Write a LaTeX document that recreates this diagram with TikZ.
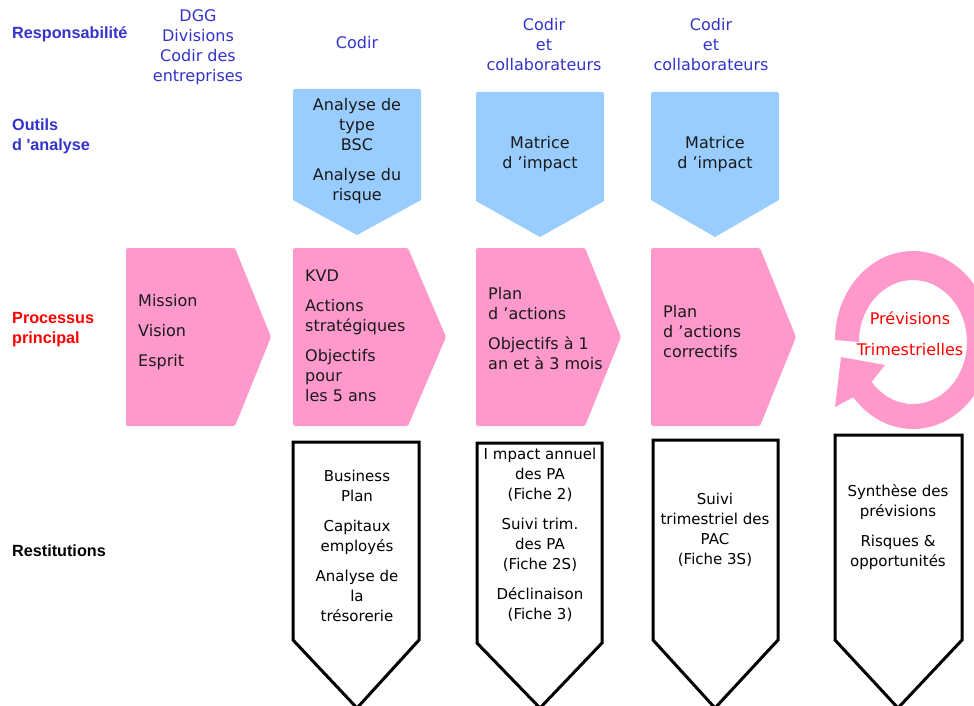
\documentclass[tikz,border=0pt]{standalone}
\usepackage{fontspec}
\setmainfont{DejaVu Sans}
\newfontfamily\labfont{Liberation Sans}
\definecolor{hdrblue}{HTML}{3333CC}
\definecolor{labred}{HTML}{FF0000}
\definecolor{pinkfill}{HTML}{FF99CC}
\definecolor{bluefill}{HTML}{99CCFF}
\definecolor{textdark}{HTML}{1A1A1A}
\begin{document}
\begin{tikzpicture}[x=1pt,y=-1pt,
  txt/.style={inner sep=0pt, font=\fontsize{16}{20}\selectfont, text=textdark, align=center},
  ltxt/.style={txt, align=left, anchor=west},
  btxt/.style={inner sep=0pt, font=\fontsize{15}{20}\selectfont, text=black, align=center},
  hdr/.style={inner sep=0pt, font=\fontsize{16}{20}\selectfont, text=hdrblue, align=center},
  lab/.style={inner sep=0pt, font=\labfont\bfseries\fontsize{16.2}{20}\selectfont, align=left, anchor=west},
  bluearrow/.style={fill=bluefill},
  pinkarrow/.style={fill=pinkfill},
  restbox/.style={draw=black, fill=white, line width=3pt, line join=miter}
]
\useasboundingbox (0,0) rectangle (974,706);
\clip (0,0) rectangle (974,706);

% row labels
\node[lab, text=hdrblue] (lresp) at (12,34) {Responsabilité};
\node[lab, text=hdrblue] (loutils) at (12,136) {Outils\\d 'analyse};
\node[lab, text=labred] (lproc) at (12,330) {Processus\\principal};
\node[lab, text=black] (lrest) at (12,551) {Restitutions};

% responsibility headers
\node[hdr] (h1) at (198,47) {DGG\\Divisions\\Codir des\\entreprises};
\node[hdr] (h2) at (357,43) {Codir};
\node[hdr] (h3) at (544,45) {Codir\\et\\collaborateurs};
\node[hdr] (h4) at (711,45) {Codir\\et\\collaborateurs};

% analysis tools (blue down arrows)
\fill[bluearrow] (293,89) [rounded corners=2pt] -- (421,89) [sharp corners] -- (421,200) -- (357,235) -- (293,200) [rounded corners=2pt] -- cycle;
\fill[bluearrow] (476,92) [rounded corners=2pt] -- (604,92) [sharp corners] -- (604,201) -- (540,237) -- (476,201) [rounded corners=2pt] -- cycle;
\fill[bluearrow] (651,92) [rounded corners=2pt] -- (779,92) [sharp corners] -- (779,200) -- (715,237) -- (651,200) [rounded corners=2pt] -- cycle;
\node[txt] (t1) at (357,151) {Analyse de\\type\\BSC\\[10pt]Analyse du\\risque};
\node[txt] (t2) at (540,154) {Matrice\\d 'impact};
\node[txt] (t3) at (715,154) {Matrice\\d 'impact};

% main process (pink right arrows)
\fill[pinkarrow, rounded corners=1.5pt] (126,248) -- (235,248) -- (271,337) -- (235,426) -- (126,426) -- cycle;
\fill[pinkarrow, rounded corners=1.5pt] (293,248) -- (408,248) -- (446,337) -- (408,426) -- (293,426) -- cycle;
\fill[pinkarrow, rounded corners=1.5pt] (476,248) -- (585,248) -- (621,337) -- (585,426) -- (476,426) -- cycle;
\fill[pinkarrow, rounded corners=1.5pt] (651,248) -- (760,248) -- (796,337) -- (760,426) -- (651,426) -- cycle;
\node[ltxt] (p1) at (138,332) {Mission\\[10pt]Vision\\[10pt]Esprit};
\node[ltxt] (p2) at (305,336) {KVD\\[10pt]Actions\\stratégiques\\[10pt]Objectifs\\pour\\les 5 ans};
\node[ltxt] (p3) at (488,329) {Plan\\d 'actions\\[10pt]Objectifs à 1\\an et à 3 mois};
\node[ltxt] (p4) at (663,332) {Plan\\d 'actions\\correctifs};

% circular arrow
\fill[pinkarrow] (835,340) arc[start angle=180, end angle=500, x radius=78, y radius=89]
  -- (835,407) -- (841,357) -- (885,365) -- (871.6,381.9)
  arc[start angle=500, end angle=180, x radius=54, y radius=62] -- cycle;
\node[txt, text=labred] (c1) at (910,318) {Prévisions};
\node[txt, text=labred] (c2) at (910,350) {Trimestrielles};

% restitutions (outlined down arrows)
\draw[restbox] (293,442) -- (419,442) -- (419,640) -- (357,708) -- (293,640) -- cycle;
\draw[restbox] (477,443) -- (602,443) -- (602,643) -- (540,708) -- (477,643) -- cycle;
\draw[restbox] (653,440) -- (778,440) -- (778,640) -- (715,708) -- (653,640) -- cycle;
\draw[restbox] (835,435) -- (962,435) -- (962,640) -- (898,708) -- (835,640) -- cycle;
\node[btxt] (r1) at (357,546) {Business\\Plan\\[10pt]Capitaux\\employés\\[10pt]Analyse de\\la\\trésorerie};
\node[btxt] (r2) at (540,535) {I mpact annuel\\des PA\\(Fiche 2)\\[10pt]Suivi trim.\\des PA\\(Fiche 2S)\\[10pt]Déclinaison\\(Fiche 3)};
\node[btxt] (r3) at (715,530) {Suivi\\trimestriel des\\PAC\\(Fiche 3S)};
\node[btxt] (r4) at (898,527) {Synthèse des\\prévisions\\[10pt]Risques \&\\opportunités};
\end{tikzpicture}
\end{document}
